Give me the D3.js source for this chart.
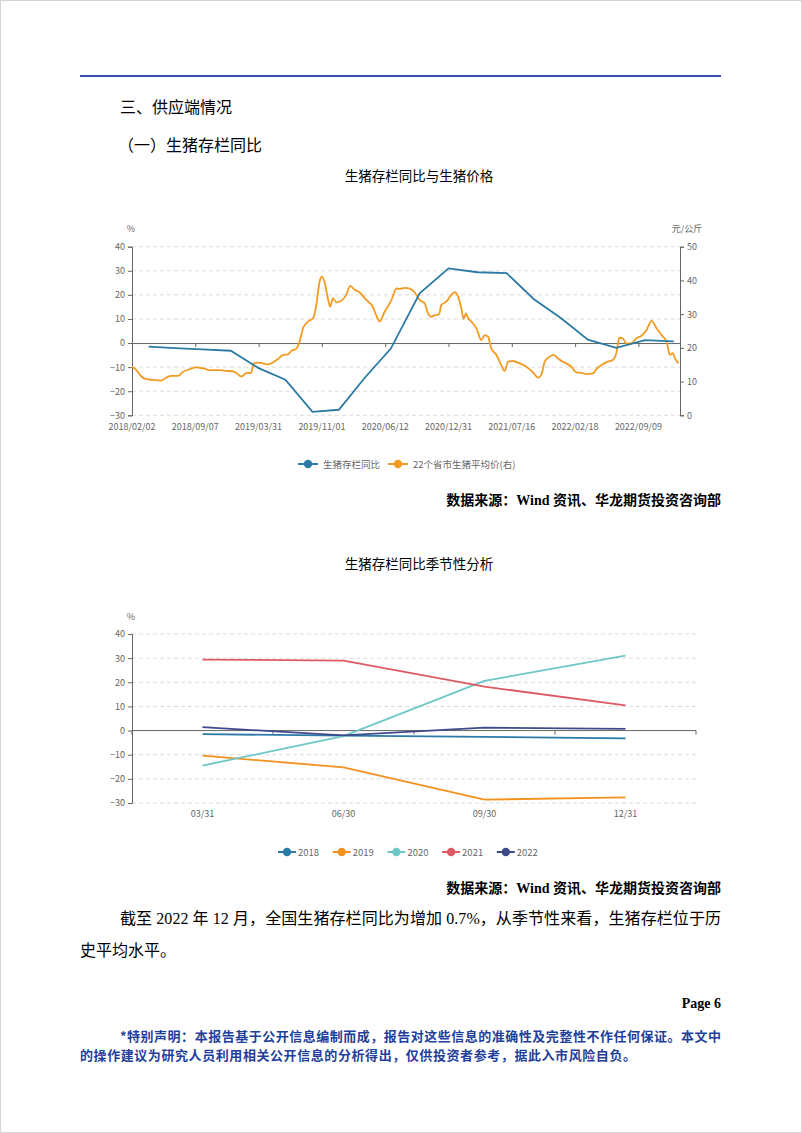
<!DOCTYPE html>
<html><head><meta charset="utf-8">
<script src="https://cdn.jsdelivr.net/npm/d3@7"></script>
<style>
html,body{margin:0;padding:0;background:#fff;}
svg{display:block;}
</style></head>
<body>
<svg id="page" width="802" height="1133"></svg>
<script>
// ---------------- DATA ----------------
const seasonCategories = ["03/31","06/30","09/30","12/31"];
const seasonYears = ["2018","2019","2020","2021","2022"];
const yoy2018 = [-1.5, -2.1, -2.6, -3.2];
const yoy2019 = [-10.4, -15.2, -28.6, -27.7];
const yoy2020 = [-14.5, -2.3, 20.6, 31.0];
const yoy2021 = [29.4, 29.0, 18.2, 10.4];
const yoy2022 = [1.4, -2.0, 1.2, 0.7];

const topTickLabels = ["2018/02/02","2018/09/07","2019/03/31","2019/11/01","2020/06/12","2020/12/31","2021/07/16","2022/02/18","2022/09/09"];
const topAxisEnd = "2023/01/20";
const leftTicks = [40,30,20,10,0,-10,-20,-30];
const rightTicks = [50,40,30,20,10,0];

const priceDates = ["2018/02/02","2018/02/17","2018/03/06","2018/03/23","2018/04/15","2018/05/13","2018/05/31","2018/06/17","2018/07/10","2018/07/27","2018/08/19",
"2018/09/10","2018/10/02","2018/10/23","2018/11/25","2018/12/16","2019/01/12","2019/02/03","2019/02/19","2019/03/07","2019/03/15","2019/03/29",
"2019/04/15","2019/05/02","2019/05/19","2019/06/05","2019/06/22","2019/07/09","2019/07/20","2019/08/06","2019/08/17","2019/08/29","2019/09/15","2019/10/02","2019/10/13","2019/10/24",
"2019/11/01","2019/11/10","2019/11/22","2019/11/30","2019/12/10","2019/12/22","2020/01/08","2020/01/26","2020/02/09","2020/02/25","2020/03/13","2020/04/06","2020/04/29","2020/05/11","2020/05/23","2020/06/10",
"2020/07/02","2020/07/18","2020/07/28","2020/08/13","2020/08/29","2020/09/14","2020/09/30","2020/10/16","2020/10/27","2020/11/06","2020/11/17","2020/12/01","2020/12/08","2020/12/24",
"2021/01/09","2021/01/19","2021/01/30","2021/02/09","2021/02/16","2021/02/23","2021/03/02","2021/03/12","2021/03/28","2021/04/12","2021/04/23","2021/05/03","2021/05/13","2021/05/29","2021/06/13","2021/06/24","2021/07/04",
"2021/07/20","2021/08/12","2021/09/04","2021/09/27","2021/10/14","2021/10/25","2021/11/06","2021/11/23","2021/12/06","2021/12/21","2022/01/07","2022/01/19","2022/02/05",
"2022/02/22","2022/03/10","2022/03/26","2022/04/16","2022/04/27","2022/05/13","2022/06/03","2022/06/19","2022/06/30","2022/07/10","2022/07/21","2022/08/01","2022/08/17","2022/09/02",
"2022/09/19","2022/10/05","2022/10/21","2022/11/06","2022/11/22","2022/12/08","2022/12/19","2022/12/28","2023/01/04","2023/01/15"];
const priceValues = [14.4,13.4,11.5,10.7,10.5,10.3,11.2,11.7,11.7,12.9,13.7,
14.2,13.9,13.4,13.4,13.2,12.9,11.5,12.5,12.6,15.4,15.6,
15.4,15.1,15.7,16.7,17.9,18.1,19.1,19.7,21.8,25.8,27.8,28.8,32.7,39.6,
41.1,39.6,34.7,32.2,34.7,33.5,33.9,35.7,38.4,37.2,36.5,34.2,32.2,29.7,27.8,30.7,
34.2,37.6,37.5,37.8,37.6,36.5,34.2,33.2,30.2,29.2,29.7,29.9,32.7,33.7,
35.7,36.5,35.2,31.7,28.6,30.2,28.8,27.8,25.8,22.3,23.8,23.3,19.9,17.9,14.9,13.1,15.9,
16.1,15.4,14.4,12.7,11.2,12.0,15.9,17.4,17.9,16.9,15.9,15.4,14.4,
12.7,12.6,12.2,12.4,13.7,14.9,15.9,16.4,18.4,23.0,22.8,21.3,21.3,22.8,
23.6,25.3,28.0,25.8,23.8,21.8,17.9,18.4,16.9,15.4];

const seriesNamesTop = ["生猪存栏同比","22个省市生猪平均价(右)"];

// ---------------- STYLE ----------------
const CJK = "'Noto Sans CJK SC','Noto Sans',sans-serif";
const SERIF = "'Liberation Serif','Noto Sans CJK SC',serif";
const AX = "#666";
const GRID = "#dcdcdc";
const colTop = {yoy:"#2b7aa3", price:"#f39a22"};
const yearColors = {"2018":"#2b7aa8","2019":"#f5921f","2020":"#6cc7c6","2021":"#dd5a62","2022":"#3f4a8a"};

const svg = d3.select("#page");
const parse = d3.timeParse("%Y/%m/%d");

// page frame & header
svg.append("rect").attr("x",0.5).attr("y",0.5).attr("width",801).attr("height",1132)
  .attr("fill","none").attr("stroke","#d4d4d4");
svg.append("line").attr("x1",80).attr("x2",721).attr("y1",76).attr("y2",76)
  .attr("stroke","#3550b0").attr("stroke-width",2);

function txt(x,y,s,opt){
  const t = svg.append("text").attr("x",x).attr("y",y).text(s)
    .attr("font-family",opt.family||CJK).attr("font-size",opt.size||12)
    .attr("fill",opt.fill||"#000").attr("font-weight",opt.weight||"normal")
    .attr("text-anchor",opt.anchor||"start");
  if(opt.len){t.attr("textLength",opt.len).attr("lengthAdjust","spacing");}
  return t;
}
txt(120,113,"三、供应端情况",{size:16});
txt(118,151,"（一）生猪存栏同比",{size:16});
txt(419,181,"生猪存栏同比与生猪价格",{size:13.5,anchor:"middle"});

// ---------------- TOP CHART ----------------
const L=132, R=680, yTop=246.7, yBot=415.3;
const step = 63.3;
const tDates = topTickLabels.map(parse);
const x1 = d3.scaleTime()
  .domain([...tDates, parse(topAxisEnd)])
  .range([...tDates.map((d,i)=>L+i*step), R]);
const yL = d3.scaleLinear().domain([-30,40]).range([yBot,yTop]);
const yR = d3.scaleLinear().domain([0,50]).range([yBot,yTop]);

const g1 = svg.append("g");
// grid
g1.selectAll(".grid").data(leftTicks.filter(v=>v!==0)).join("line")
  .attr("x1",L).attr("x2",R).attr("y1",d=>yL(d)).attr("y2",d=>yL(d))
  .attr("stroke",GRID).attr("stroke-dasharray","4,3");
// left axis
const la = g1.append("g").attr("transform",`translate(${L},0)`)
  .call(d3.axisLeft(yL).tickValues(leftTicks).tickSize(4).tickPadding(3));
// right axis
const ra = g1.append("g").attr("transform",`translate(${R},0)`)
  .call(d3.axisRight(yR).tickValues(rightTicks).tickSize(4).tickPadding(3));
// zero axis
const za = g1.append("g").attr("transform",`translate(0,${yL(0)})`)
  .call(d3.axisBottom(x1).tickValues(tDates).tickSize(4).tickFormat(""));
[la,ra,za].forEach(a=>{
  a.select(".domain").attr("stroke",AX);
  a.selectAll(".tick line").attr("stroke",AX);
  a.selectAll("text").attr("font-family",CJK).attr("font-size",9).attr("fill",AX);
});
// x labels at bottom
g1.selectAll(".xl").data(tDates).join("text")
  .attr("x",d=>x1(d)).attr("y",yBot+15).attr("text-anchor","middle")
  .attr("font-family",CJK).attr("font-size",9).attr("fill",AX)
  .text(d3.timeFormat("%Y/%m/%d"));
txt(L-1,232,"%",{size:9,fill:AX,anchor:"middle"});
txt(R+7,232,"元/公斤",{size:9,fill:AX,anchor:"middle"});

// series
const allYoy = [yoy2018,yoy2019,yoy2020,yoy2021,yoy2022];
const yoyData = [];
seasonYears.forEach((yr,i)=>seasonCategories.forEach((c,j)=>{
  yoyData.push({d:parse(yr+"/"+c), v:allYoy[i][j]});
}));
const priceData = priceDates.map((d,i)=>({d:parse(d), v:priceValues[i]}));

g1.append("path").datum(priceData)
  .attr("d",d3.line().x(d=>x1(d.d)).y(d=>yR(d.v)).curve(d3.curveMonotoneX))
  .attr("fill","none").attr("stroke",colTop.price).attr("stroke-width",1.8);
g1.append("path").datum(yoyData)
  .attr("d",d3.line().x(d=>x1(d.d)).y(d=>yL(d.v)))
  .attr("fill","none").attr("stroke",colTop.yoy).attr("stroke-width",1.8);

// legend
function legendItem(cx,cy,color,label){
  svg.append("line").attr("x1",cx-10).attr("x2",cx+10).attr("y1",cy).attr("y2",cy)
    .attr("stroke",color).attr("stroke-width",2);
  svg.append("circle").attr("cx",cx).attr("cy",cy).attr("r",4.2).attr("fill",color);
  txt(cx+15,cy+3.5,label,{size:9.5,fill:AX});
}
legendItem(308,464,colTop.yoy,seriesNamesTop[0]);
legendItem(398,464,colTop.price,seriesNamesTop[1]);

txt(721,505,"数据来源：Wind 资讯、华龙期货投资咨询部",{size:14,weight:"bold",family:SERIF,anchor:"end"});

// ---------------- BOTTOM CHART ----------------
txt(419,569,"生猪存栏同比季节性分析",{size:13.5,anchor:"middle"});
const L2=132, R2=696, yTop2=634, yBot2=803;
const x2 = d3.scaleBand().domain(seasonCategories).range([L2,R2]);
const y2 = d3.scaleLinear().domain([-30,40]).range([yBot2,yTop2]);
const g2 = svg.append("g");
g2.selectAll(".grid").data(leftTicks.filter(v=>v!==0)).join("line")
  .attr("x1",L2).attr("x2",R2).attr("y1",d=>y2(d)).attr("y2",d=>y2(d))
  .attr("stroke",GRID).attr("stroke-dasharray","4,3");
const la2 = g2.append("g").attr("transform",`translate(${L2},0)`)
  .call(d3.axisLeft(y2).tickValues(leftTicks).tickSize(4).tickPadding(3));
la2.select(".domain").attr("stroke",AX);
la2.selectAll(".tick line").attr("stroke",AX);
la2.selectAll("text").attr("font-family",CJK).attr("font-size",9).attr("fill",AX);
// zero line with boundary ticks
g2.append("line").attr("x1",L2).attr("x2",R2).attr("y1",y2(0)).attr("y2",y2(0)).attr("stroke",AX);
const bounds = [...seasonCategories.map(c=>x2(c)), R2];
g2.selectAll(".bt").data(bounds).join("line")
  .attr("x1",d=>d).attr("x2",d=>d).attr("y1",y2(0)).attr("y2",y2(0)+4).attr("stroke",AX);
g2.selectAll(".xl").data(seasonCategories).join("text")
  .attr("x",d=>x2(d)+x2.bandwidth()/2).attr("y",yBot2+14).attr("text-anchor","middle")
  .attr("font-family",CJK).attr("font-size",9).attr("fill",AX).text(d=>d);
txt(L2-1,620,"%",{size:9,fill:AX,anchor:"middle"});

const line2 = d3.line().x((d,i)=>x2(seasonCategories[i])+x2.bandwidth()/2).y(d=>y2(d));
seasonYears.forEach((yr,i)=>{
  g2.append("path").datum(allYoy[i]).attr("d",line2)
    .attr("fill","none").attr("stroke",yearColors[yr]).attr("stroke-width",1.8);
});
seasonYears.forEach((yr,i)=>{
  const cx = 287 + i*54.7;
  svg.append("line").attr("x1",cx-9).attr("x2",cx+9).attr("y1",852).attr("y2",852)
    .attr("stroke",yearColors[yr]).attr("stroke-width",2);
  svg.append("circle").attr("cx",cx).attr("cy",852).attr("r",4.2).attr("fill",yearColors[yr]);
  txt(cx+11,855.5,yr,{size:9.5,fill:AX});
});

txt(721,893,"数据来源：Wind 资讯、华龙期货投资咨询部",{size:14,weight:"bold",family:SERIF,anchor:"end"});

// ---------------- BODY TEXT ----------------
txt(120,924,"截至 2022 年 12 月，全国生猪存栏同比为增加 0.7%，从季节性来看，生猪存栏位于历",{size:16,family:SERIF,len:601});
txt(80,956,"史平均水平。",{size:16,family:SERIF});
txt(721,1008,"Page 6",{size:14,weight:"bold",family:SERIF,anchor:"end"});
const BLUE = "#1f3f9a";
txt(120,1041,"*特别声明：本报告基于公开信息编制而成，报告对这些信息的准确性及完整性不作任何保证。本文中",{size:13,fill:BLUE,weight:"bold",len:601});
txt(80,1060,"的操作建议为研究人员利用相关公开信息的分析得出，仅供投资者参考，据此入市风险自负。",{size:13,fill:BLUE,weight:"bold",len:556});
</script>
</body></html>
